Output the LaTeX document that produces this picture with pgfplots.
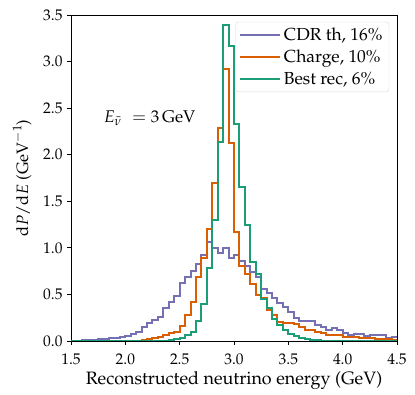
\documentclass[border=0pt]{standalone}
\usepackage[T1]{fontenc}
\usepackage{mathpazo}
\usepackage{pgfplots}
\pgfplotsset{compat=1.18}
\definecolor{cpur}{HTML}{7570B3}
\definecolor{corg}{HTML}{D95F02}
\definecolor{cgrn}{HTML}{1B9E77}
\pgfplotstableread{
x y
1.50 0.005
1.55 0.005
1.60 0.01
1.65 0.01
1.70 0.01
1.75 0.02
1.80 0.02
1.85 0.03
1.90 0.03
1.95 0.04
2.00 0.05
2.05 0.07
2.10 0.10
2.15 0.15
2.20 0.19
2.25 0.23
2.30 0.26
2.35 0.35
2.40 0.42
2.45 0.48
2.50 0.62
2.55 0.69
2.60 0.75
2.65 0.83
2.70 0.92
2.75 1.06
2.80 1.00
2.85 0.95
2.90 1.00
2.95 0.89
3.00 0.92
3.05 0.86
3.10 0.80
3.15 0.74
3.20 0.69
3.25 0.56
3.30 0.52
3.35 0.46
3.40 0.41
3.45 0.37
3.50 0.31
3.55 0.25
3.60 0.22
3.65 0.22
3.70 0.21
3.75 0.17
3.80 0.15
3.85 0.12
3.90 0.14
3.95 0.12
4.00 0.09
4.05 0.064
4.10 0.08
4.15 0.08
4.20 0.054
4.25 0.064
4.30 0.064
4.35 0.064
4.40 0.03
4.45 0.04
4.50 0.04
}\cdr
\pgfplotstableread{
x y
1.50 0
2.05 0
2.10 0.005
2.15 0.01
2.20 0.02
2.25 0.03
2.30 0.04
2.35 0.06
2.40 0.09
2.45 0.10
2.50 0.16
2.55 0.28
2.60 0.42
2.65 0.69
2.70 0.89
2.75 1.20
2.80 1.70
2.85 2.29
2.90 2.92
2.95 2.13
3.00 1.17
3.05 0.81
3.10 0.72
3.15 0.61
3.20 0.49
3.25 0.46
3.30 0.33
3.35 0.28
3.40 0.20
3.45 0.19
3.50 0.19
3.55 0.18
3.60 0.15
3.65 0.12
3.70 0.12
3.75 0.10
3.80 0.09
3.85 0.065
3.90 0.065
3.95 0.06
4.00 0.046
4.05 0.045
4.10 0.04
4.15 0.03
4.20 0.03
4.25 0.03
4.30 0.025
4.35 0.02
4.40 0.02
4.45 0.015
4.50 0.015
}\charge
\pgfplotstableread{
x y
1.50 0
2.25 0
2.30 0.005
2.35 0.005
2.40 0.01
2.45 0.02
2.50 0.03
2.55 0.06
2.60 0.10
2.65 0.22
2.70 0.40
2.75 0.78
2.80 1.30
2.85 2.14
2.90 3.39
2.95 3.17
3.00 2.33
3.05 1.65
3.10 1.25
3.15 0.85
3.20 0.72
3.25 0.45
3.30 0.35
3.35 0.24
3.40 0.17
3.45 0.12
3.50 0.07
3.55 0.05
3.60 0.03
3.65 0.02
3.70 0.01
3.75 0.01
3.80 0.005
3.85 0.005
3.90 0
4.50 0
}\best
\begin{document}
\begin{tikzpicture}
\begin{axis}[
  width=326bp, height=326bp, scale only axis,
  xmin=1.5, xmax=4.5, ymin=0, ymax=3.5,
  xtick={1.5,2.0,2.5,3.0,3.5,4.0,4.5},
  ytick={0,0.5,1.0,1.5,2.0,2.5,3.0,3.5},
  /pgf/number format/.cd, fixed, fixed zerofill, precision=1, /pgfplots/.cd,
  tick align=outside, xtick pos=left, ytick pos=left,
  major tick length=3.5bp,
  axis line style={line width=0.8bp},
  every tick/.style={line width=0.8bp, black},
  tick label style={font=\fontsize{15.5}{18}\selectfont},
  xticklabel style={yshift=-6bp},
  yticklabel style={xshift=-1.5bp},
  xlabel style={font=\fontsize{18}{21}\selectfont, at={(axis description cs:0.5,-0.121)}, anchor=center},
  ylabel style={font=\fontsize{16.5}{20}\selectfont, at={(axis description cs:-0.150,0.5)}, anchor=center},
  xlabel={Reconstructed neutrino energy (GeV)},
  ylabel={$\mathrm{d}P/\mathrm{d}E$ ($\mathrm{GeV}^{-1}$)},
  legend style={at={(0.976,0.979)}, anchor=north east, draw=black!15, rounded corners=3bp,
    fill=white, fill opacity=0.8, text opacity=1, font=\fontsize{17.5}{20}\selectfont,
    row sep=4bp, inner xsep=4bp, inner ysep=4bp, nodes={inner xsep=2.5bp, inner ysep=2bp}},
  legend cell align=left,
  legend image code/.code={\draw[#1, line width=2bp] (0bp,0bp) -- (34bp,0bp); \path (0bp,0bp) -- (40bp,0bp);},
]
\addplot[const plot mark left, cpur, line width=2bp] table {\cdr};
\addlegendentry{CDR th, 16\%}
\addplot[const plot mark left, corg, line width=2bp] table {\charge};
\addlegendentry{Charge, 10\%}
\addplot[const plot mark left, cgrn, line width=2bp] table {\best};
\addlegendentry{Best rec, 6\%}
\node at (axis cs:2.224,2.395) {\fontsize{17}{20}\selectfont $E_{\bar{\nu}}\mkern6mu = 3\,\mathrm{GeV}$};
\coordinate (ll) at (rel axis cs:0,0);
\coordinate (ur) at (rel axis cs:1,1);
\end{axis}
\pgfresetboundingbox
\path ([shift={(-71bp,-54bp)}]ll) rectangle ([shift={(18bp,15bp)}]ur);
\end{tikzpicture}
\end{document}
